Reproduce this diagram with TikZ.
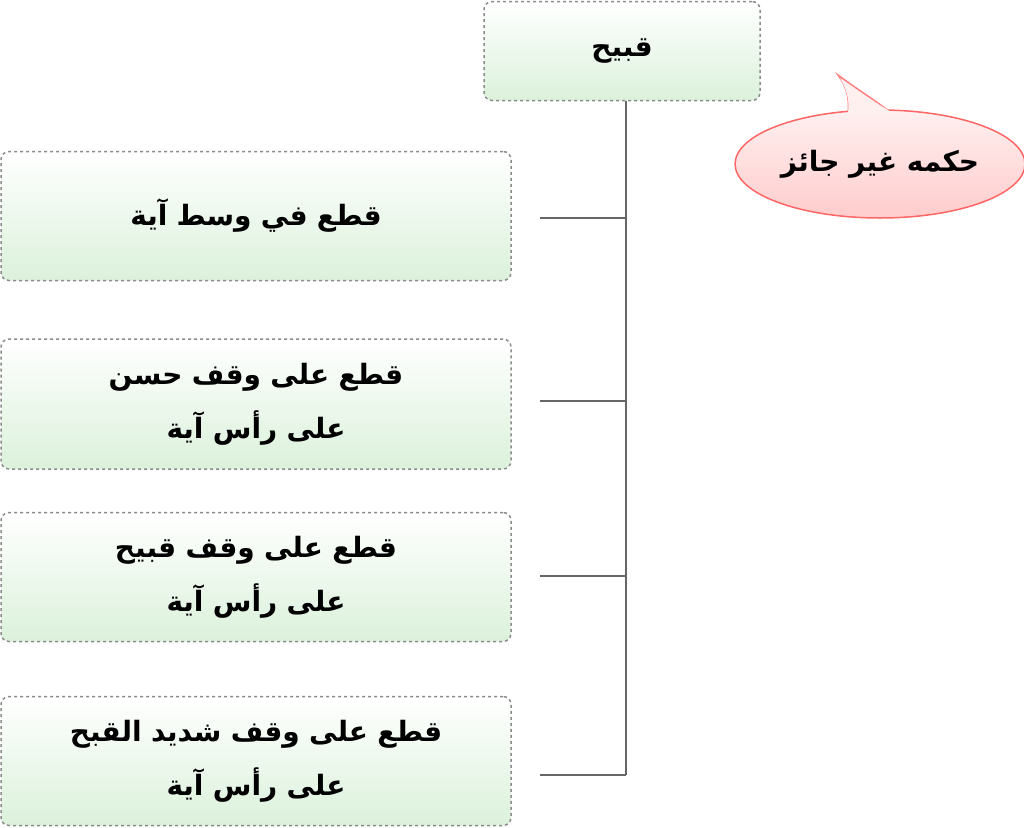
\documentclass[tikz,border=0pt]{standalone}
\usepackage{fontspec}
\newfontfamily\arabicfont[Script=Arabic]{DejaVu Sans}
\TeXXeTstate=1
\usetikzlibrary{shapes.geometric}
\newcommand{\ar}[1]{\beginR #1\endR}
\tikzset{
  stepbox/.style={draw=gray!90, dashed, line width=1.5pt, rounded corners=8pt, top color=white,
    bottom color=green!60!black!14, text width=#1, align=center,
    font=\arabicfont\bfseries\fontsize{28}{54}\selectfont},
  link/.style={draw=gray!80!black, line width=2pt}
}
\begin{document}
\begin{tikzpicture}[x=1pt,y=-1pt]
  \useasboundingbox (0,0) rectangle (1024,827);
  % Boxes
  \node [stepbox=240pt, minimum width=276pt, minimum height=99pt] (top) at (622,51) {\ar{قبيح}};
  \node [stepbox=480pt, minimum width=510pt, minimum height=129pt] (b1) at (256,216) {\ar{قطع في وسط آية}};
  \node [stepbox=480pt, minimum width=510pt, minimum height=130pt] (b2) at (256,404) {\ar{قطع على وقف حسن}\\\ar{على رأس آية}};
  \node [stepbox=480pt, minimum width=510pt, minimum height=129pt] (b3) at (256,577) {\ar{قطع على وقف قبيح}\\\ar{على رأس آية}};
  \node [stepbox=480pt, minimum width=510pt, minimum height=129pt] (b4) at (256,761) {\ar{قطع على وقف شديد القبح}\\\ar{على رأس آية}};

  % Bubble
  \draw [red!50, line width=1.5pt, fill=red!6] (846,125) .. controls (852,100) and (846,86) .. (838,75) .. controls (858,90) and (878,102) .. (898,118);
  \node [ellipse, draw=red!60, line width=1.5pt, top color=red!6, bottom color=red!20, minimum width=246pt, minimum height=108pt,
    font=\arabicfont\bfseries\fontsize{28}{32}\selectfont] (note) at (880,164) {\ar{حكمه غير جائز}};
  \fill [red!6] (848,113) .. controls (850,100) and (846,88) .. (840,78) .. controls (858,92) and (876,103) .. (893,113) -- cycle;

  % Connectors
  \coordinate (bot) at (626,775);
  \draw [link] (top.south -| bot) -- (bot);
  \foreach \y in {218, 401, 576, 775}
    \draw [link] (540,\y) -- (626,\y);
\end{tikzpicture}
\end{document}
